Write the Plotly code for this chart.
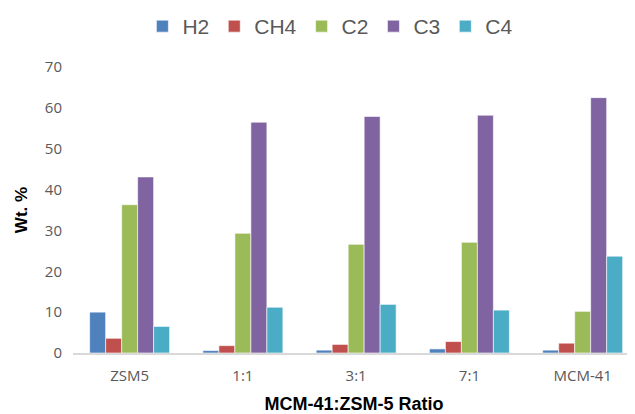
import plotly.graph_objects as go

categories = ["ZSM5", "1:1", "3:1", "7:1", "MCM-41"]
series_names = ["H2", "CH4", "C2", "C3", "C4"]
h2 = [10.0, 0.6, 0.7, 1.0, 0.7]
ch4 = [3.6, 1.8, 2.1, 2.8, 2.4]
c2 = [36.3, 29.3, 26.6, 27.1, 10.2]
c3 = [43.1, 56.5, 57.9, 58.2, 62.5]
c4 = [6.5, 11.2, 11.9, 10.5, 23.7]
y_ticks = [0, 10, 20, 30, 40, 50, 60, 70]

colors = ["#4F81BD", "#C0504D", "#9BBB59", "#8064A2", "#4BACC6"]
values = [h2, ch4, c2, c3, c4]

fig = go.Figure()
for name, vals, col in zip(series_names, values, colors):
    fig.add_trace(go.Bar(x=categories, y=vals, name=name,
                         marker=dict(color=col, line=dict(color="white", width=0.6))))

font_family = "Open Sans, sans-serif"
fig.update_layout(
    width=627, height=406,
    margin=dict(l=65, r=0, t=59, b=61, autoexpand=False),
    paper_bgcolor="white", plot_bgcolor="white",
    barmode="group", bargap=0.294, bargroupgap=0,
    showlegend=True,
    legend=dict(orientation="h", x=0.458, xanchor="center", y=1.1416,
                yanchor="middle", font=dict(family="Liberation Sans, Arial, sans-serif", size=21, color="#595959"),
                itemwidth=30, traceorder="normal", tracegroupgap=0),
    font=dict(family=font_family, color="#595959"),
)
fig.update_xaxes(showgrid=False, showline=True, linecolor="#D9D9D9", linewidth=1.5,
                 range=[-0.5, 4.462], automargin=False,
                 ticks="", ticklabelstandoff=8, tickfont=dict(size=15, color="#595959"),
                 title=dict(text="<b>MCM-41:ZSM-5 Ratio</b>", standoff=17,
                            font=dict(family="Liberation Sans, Arial, sans-serif", size=18, color="black")))
fig.update_yaxes(range=[0, 70], tickvals=y_ticks, showgrid=False, showline=False, zeroline=False,
                 automargin=False,
                 ticks="", ticklabelstandoff=10, tickfont=dict(size=15, color="#595959"),
                 title=dict(text="<b>Wt. %</b>", standoff=12,
                            font=dict(family="Liberation Sans, Arial, sans-serif", size=17, color="black")))

fig.write_html("out.html")
